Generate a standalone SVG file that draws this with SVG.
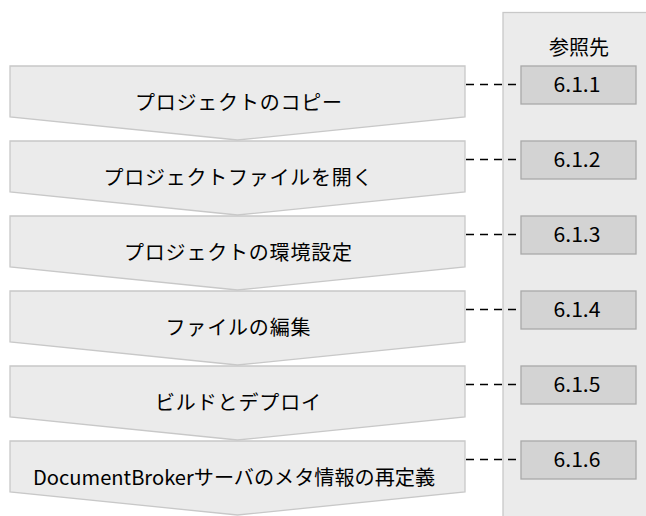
<svg xmlns="http://www.w3.org/2000/svg" width="646" height="516" viewBox="0 0 646 516">
<style>
.chev{fill:#ebebeb;stroke:#c8c8c8;stroke-width:1.3}
.panel{fill:#ebebeb;stroke:#c8c8c8;stroke-width:1.3}
.ref{fill:#d3d3d3;stroke:#a9a9a9;stroke-width:1.3}
.t{font-family:"Noto Sans CJK JP","Noto Sans",sans-serif;font-size:20px;fill:#000;text-anchor:middle}
.n{font-family:"Noto Sans CJK JP","Noto Sans",sans-serif;font-size:20px;fill:#000;text-anchor:middle}
.dash{stroke:#000;stroke-width:1.5;stroke-dasharray:8,6;fill:none}
</style>
<rect id="panel" class="panel" x="503" y="12.5" width="160" height="520"/>
<text class="t" x="579" y="55" textLength="60" lengthAdjust="spacing">参照先</text>
<g id="connectors">
<line class="dash" x1="466" y1="84.5" x2="521" y2="84.5"/>
<line class="dash" x1="466" y1="159.5" x2="521" y2="159.5"/>
<line class="dash" x1="466" y1="234.5" x2="521" y2="234.5"/>
<line class="dash" x1="466" y1="309.5" x2="521" y2="309.5"/>
<line class="dash" x1="466" y1="384.5" x2="521" y2="384.5"/>
<line class="dash" x1="466" y1="459.5" x2="521" y2="459.5"/>
</g>
<g id="step1"><path class="chev" d="M10,66H465V117L237.5,140L10,117Z"/><text class="t" x="238.5" y="110" textLength="207" lengthAdjust="spacing">プロジェクトのコピー</text></g>
<g id="step2"><path class="chev" d="M10,141H465V192L237.5,215L10,192Z"/><text class="t" x="238" y="185" textLength="269" lengthAdjust="spacing">プロジェクトファイルを開く</text></g>
<g id="step3"><path class="chev" d="M10,216H465V267L237.5,290L10,267Z"/><text class="t" x="238" y="260" textLength="228" lengthAdjust="spacing">プロジェクトの環境設定</text></g>
<g id="step4"><path class="chev" d="M10,291H465V342L237.5,365L10,342Z"/><text class="t" x="238" y="335" textLength="145" lengthAdjust="spacing">ファイルの編集</text></g>
<g id="step5"><path class="chev" d="M10,366H465V417L237.5,440L10,417Z"/><text class="t" x="238" y="410" textLength="166" lengthAdjust="spacing">ビルドとデプロイ</text></g>
<g id="step6"><path class="chev" d="M10,441H465V492L237.5,515L10,492Z"/><text class="t" x="234" y="485" textLength="402" lengthAdjust="spacingAndGlyphs">DocumentBrokerサーバのメタ情報の再定義</text></g>
<g id="ref1"><rect class="ref" x="521" y="66" width="115" height="38"/><text class="n" x="577" y="92" textLength="47" lengthAdjust="spacingAndGlyphs">6.1.1</text></g>
<g id="ref2"><rect class="ref" x="521" y="141" width="115" height="38"/><text class="n" x="577" y="167" textLength="47" lengthAdjust="spacingAndGlyphs">6.1.2</text></g>
<g id="ref3"><rect class="ref" x="521" y="216" width="115" height="38"/><text class="n" x="577" y="242" textLength="47" lengthAdjust="spacingAndGlyphs">6.1.3</text></g>
<g id="ref4"><rect class="ref" x="521" y="291" width="115" height="38"/><text class="n" x="577" y="317" textLength="47" lengthAdjust="spacingAndGlyphs">6.1.4</text></g>
<g id="ref5"><rect class="ref" x="521" y="366" width="115" height="38"/><text class="n" x="577" y="392" textLength="47" lengthAdjust="spacingAndGlyphs">6.1.5</text></g>
<g id="ref6"><rect class="ref" x="521" y="441" width="115" height="38"/><text class="n" x="577" y="467" textLength="47" lengthAdjust="spacingAndGlyphs">6.1.6</text></g>
</svg>
